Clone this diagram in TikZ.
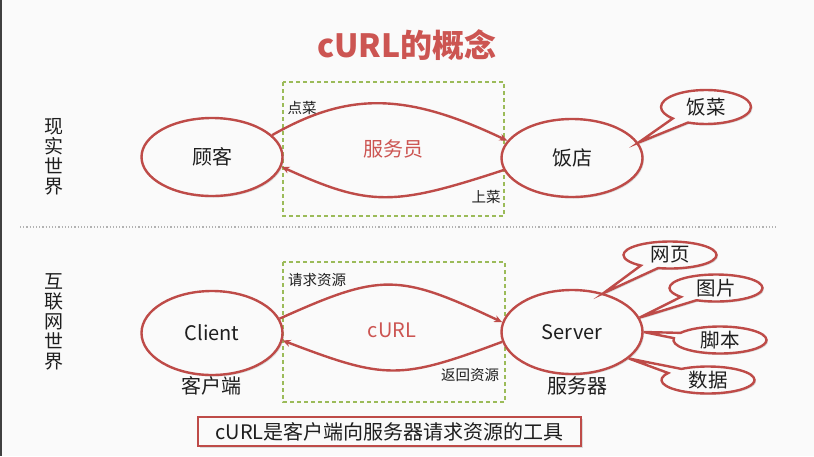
\documentclass[tikz,border=0pt]{standalone}
\usepackage{fontspec}
\setmainfont{Noto Sans CJK SC}
\usetikzlibrary{shapes.geometric,shapes.callouts,shadows,arrows.meta}
\definecolor{bg}{HTML}{FAFAFA}
\definecolor{cred}{HTML}{BE4B48}
\definecolor{tred}{HTML}{CC5552}
\definecolor{cgreen}{HTML}{9BBB59}
\definecolor{ink}{HTML}{1E1E1E}
\tikzset{
  oval/.style={ellipse, draw=cred, line width=2.4pt, fill=bg, minimum width=141pt, inner sep=0pt, text=ink,
    drop shadow={shadow xshift=1.5pt, shadow yshift=-1.5pt, opacity=0.25}, font=\fontsize{20}{22}\selectfont},
  bubble/.style={ellipse callout, draw=cred, line width=2.4pt, fill=bg, minimum width=93pt, minimum height=27pt,
    inner sep=0pt, callout pointer arc=24, text=ink,
    drop shadow={shadow xshift=1.5pt, shadow yshift=-1.5pt, opacity=0.25}, font=\fontsize{19.5}{21}\selectfont},
  flow/.style={draw=cred, line width=2.4pt, -{Stealth[length=8pt,width=7pt]}},
  small/.style={font=\fontsize{14.5}{16}\selectfont, inner sep=0pt, text=ink},
  vert/.style={align=center, inner sep=0pt, text=ink, font=\fontsize{19}{20}\selectfont},
  gbox/.style={draw=cgreen, line width=1.8pt, dash pattern=on 4pt off 3pt},
}
\begin{document}
\begin{tikzpicture}[x=1pt,y=-1pt]
\fill[bg] (0,0) rectangle (814,456);
\useasboundingbox (0,0) rectangle (814,456);
\draw[black!75, line width=1.5pt] (0.75,0) -- (0.75,456);

% title
\node[text=tred, font=\fontsize{32}{36}\selectfont\bfseries] (title) at (407,45) {cURL的概念};

% separator
\draw[black!30, line width=1.2pt, dotted] (20,227) -- (776,227);

% ===== section 1 =====
\node[vert] (real) at (54,157) {现\\实\\世\\界};
\draw[gbox] (283,82) rectangle (504,216);
\node[oval, minimum height=78pt] (gk) at (212,157) {顾客};
\node[oval, minimum height=78pt] (fd) at (572,158) {饭店};
\node[text=tred, font=\fontsize{20}{22}\selectfont, inner sep=0pt] (fwy) at (393,149) {服务员};
\draw[flow] (gk.20) .. controls (348,92) and (405,92) .. (fd.165);
\draw[flow] (fd.190) .. controls (394,206) and (370,207) .. (gk.-8);
\node[small] (dc) at (302,108) {点菜};
\node[small] (sc) at (486,197) {上菜};
\node[bubble, minimum width=90pt, minimum height=34pt, callout absolute pointer={(fd.13)}] (fc) at (706,107) {饭菜};

% ===== section 2 =====
\node[vert] (net) at (54,322) {互\\联\\网\\世\\界};
\draw[gbox] (283,262) rectangle (505,402);
\node[oval, minimum height=84pt] (cl) at (212,333) {Client};
\node[oval, minimum height=84pt] (sv) at (572,332) {Server};
\node[text=tred, font=\fontsize{20}{22}\selectfont, inner sep=0pt] (curl) at (392,330) {cURL};
\draw[flow] (cl.12) .. controls (381,273) and (398,273) .. (sv.172);
\draw[flow] (sv.188) .. controls (400,380) and (386,380) .. (cl.-6);
\node[small] (qq) at (317,280) {请求资源};
\node[small] (fh) at (470,375) {返回资源};
\node[font=\fontsize{20}{22}\selectfont, inner sep=0pt, text=ink] (khd) at (211,386) {客户端};
\node[font=\fontsize{20}{22}\selectfont, inner sep=0pt, text=ink] (fwq) at (577,386) {服务器};

\node[bubble, callout absolute pointer={(sv.51)}] (wy) at (670,255) {网页};
\node[bubble, callout absolute pointer={(sv.12)}] (tp) at (716,288) {图片};
\node[bubble, callout absolute pointer={(sv.0)}] (jb) at (720,340) {脚本};
\node[bubble, callout absolute pointer={(sv.-25)}] (sj) at (708,380) {数据};

% summary
\node[draw=cred, line width=2.4pt, fill=bg, minimum width=383pt, minimum height=29pt, inner sep=0pt, text=ink,
  drop shadow={shadow xshift=1.5pt, shadow yshift=-1.5pt, opacity=0.25},
  font=\fontsize{20}{22}\selectfont] (sum) at (389.5,431.5) {cURL是客户端向服务器请求资源的工具};
\end{tikzpicture}
\end{document}
